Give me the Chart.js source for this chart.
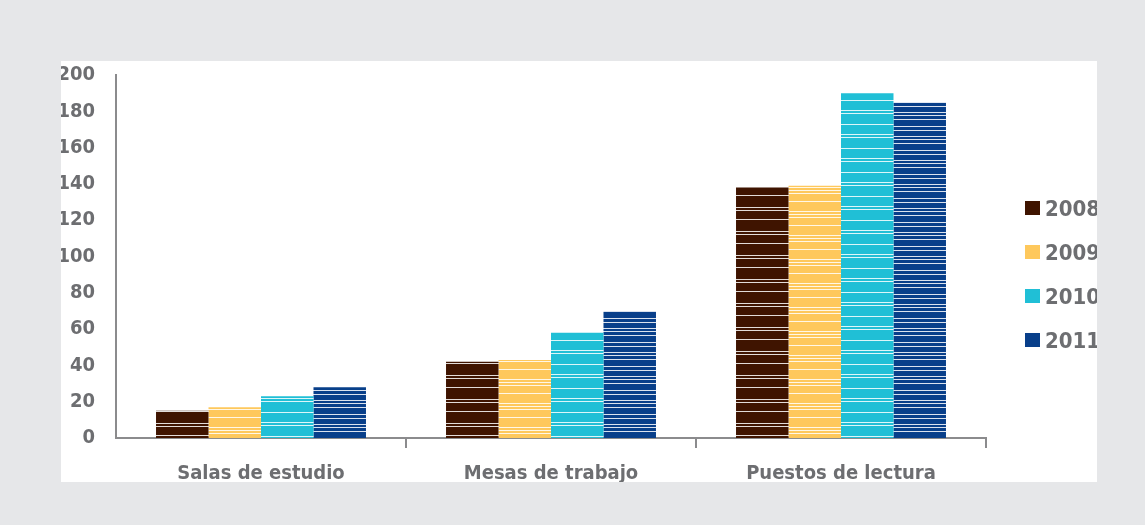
<!DOCTYPE html>
<html lang="es">
<head>
<meta charset="utf-8">
<script src="https://cdn.jsdelivr.net/npm/chart.js@4.4.1/dist/chart.umd.min.js"></script>
<style>
  html, body { margin: 0; padding: 0; }
  body { width: 1145px; height: 525px; background: #e6e7e9; position: relative; overflow: hidden; }
  #panel { position: absolute; left: 61px; top: 61px; width: 1036px; height: 421px; background: #ffffff; overflow: hidden; }
  #chart { position: absolute; left: 0; top: 0; }
  #legend { position: absolute; left: 964px; top: 125px; margin: 0; padding: 0; list-style: none; }
  #legend li { height: 44px; display: flex; align-items: center; white-space: nowrap;
               font-family: "DejaVu Sans Condensed", "Liberation Sans Narrow", sans-serif; font-weight: bold;
               font-size: 22px; color: #6d6e71; }
  #legend .sw { width: 15px; height: 14px; margin-right: 5px; flex: none; }
</style>
</head>
<body>
<div id="panel">
  <canvas id="chart" width="1036" height="421"></canvas>
  <ul id="legend"></ul>
</div>
<script>
// Categories and yearly values
const categories = ["Salas de estudio", "Mesas de trabajo", "Puestos de lectura"];
const years = ["2008", "2009", "2010", "2011"];
const values2008 = [15, 42, 138];
const values2009 = [17, 43, 139];
const values2010 = [23, 58, 190];
const values2011 = [28, 70, 185];
const yTicks = [0, 20, 40, 60, 80, 100, 120, 140, 160, 180, 200];

const seriesColors = ["#3f1400", "#fec85c", "#20bfd6", "#083f8a"];
// thin light rules across each series' fill (offsets inside a 24px repeat)
const seriesRules = [[2, 5, 14], [6, 9, 12, 20], [1, 4, 15], [3, 6, 10, 17, 21]];
const textColor = "#6d6e71";
const axisColor = "#8b8b8d";
const fontFamily = '"DejaVu Sans Condensed", "Liberation Sans Narrow", sans-serif';

const seriesValues = [values2008, values2009, values2010, values2011];

function ruledFill(color, rules) {
  const tile = document.createElement("canvas");
  tile.width = 8;
  tile.height = 24;
  const c = tile.getContext("2d");
  c.fillStyle = color;
  c.fillRect(0, 0, 8, 24);
  c.fillStyle = "rgba(255,255,255,0.85)";
  rules.forEach(r => c.fillRect(0, r, 8, 1));
  return document.getElementById("chart").getContext("2d").createPattern(tile, "repeat");
}

// Legend as a simple list beside the plot
const legendEl = document.getElementById("legend");
years.forEach((y, i) => {
  const li = document.createElement("li");
  const sw = document.createElement("span");
  sw.className = "sw";
  sw.style.background = seriesColors[i];
  li.appendChild(sw);
  li.appendChild(document.createTextNode(y));
  legendEl.appendChild(li);
});

new Chart(document.getElementById("chart"), {
  type: "bar",
  data: {
    labels: categories,
    datasets: years.map((y, i) => ({
      label: y,
      data: seriesValues[i],
      backgroundColor: ruledFill(seriesColors[i], seriesRules[i]),
      borderWidth: 0,
      categoryPercentage: 0.724,
      barPercentage: 1.0
    }))
  },
  options: {
    responsive: false,
    animation: false,
    layout: { padding: { left: 0, right: 111, top: 14, bottom: 0 } },
    plugins: { legend: { display: false }, tooltip: { enabled: false } },
    scales: {
      x: {
        grid: {
          display: true,
          drawOnChartArea: false,
          drawTicks: true,
          tickLength: 10,
          lineWidth: 2,
          color: (ctx) => ctx.index === 0 ? "rgba(0,0,0,0)" : axisColor
        },
        border: { display: true, color: axisColor, width: 2 },
        ticks: {
          color: textColor,
          padding: 14,
          font: { family: fontFamily, size: 20, weight: "bold" }
        },
        afterFit: (s) => { s.height = 44; s.paddingLeft = 0; s.paddingRight = 0; }
      },
      y: {
        min: 0,
        max: 200,
        afterBuildTicks: (s) => { s.ticks = yTicks.map(v => ({ value: v })); },
        grid: { display: false },
        border: { display: true, color: axisColor, width: 2 },
        ticks: {
          color: textColor,
          padding: 13,
          font: { family: fontFamily, size: 20, weight: "bold" }
        },
        afterFit: (s) => { s.width = 55; s.paddingTop = 0; s.paddingBottom = 0; }
      }
    }
  }
});
</script>
</body>
</html>
